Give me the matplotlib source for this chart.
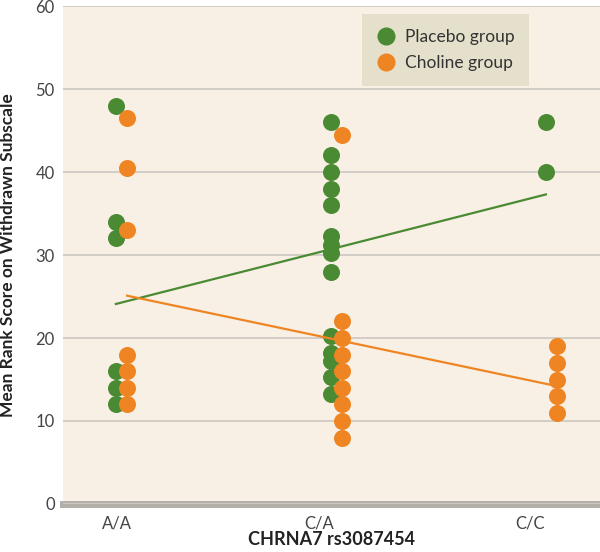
import matplotlib
matplotlib.use('Agg')
import matplotlib.pyplot as plt
from matplotlib.lines import Line2D

plt.rcParams['font.family'] = ['Lato', 'DejaVu Sans']

GENOTYPES = ['A/A', 'C/A', 'C/C']

PLACEBO = [
    [48, 34, 32, 16, 14, 12],
    [46, 42, 40, 38, 36, 32.3, 31.2, 30.2, 28, 20.2, 18.2, 17.2, 15.3, 13.3],
    [46, 40],
]
CHOLINE = [
    [46.5, 40.5, 33, 18, 16, 14, 12],
    [44.5, 22, 20, 18, 16, 14, 12, 10, 8],
    [19, 17, 15, 13, 11],
]
# fitted trend, value at A/A and at C/C
PLACEBO_FIT = [24.1, 37.3]
CHOLINE_FIT = [25.1, 14.2]

GREEN = '#4a8a33'
ORANGE = '#ee8522'
BG = '#f8f0e5'

fig = plt.figure(figsize=(6, 5.52), dpi=100)
ax = fig.add_axes([0.105, 0.087, 0.895, 0.902])
ax.set_facecolor(BG)

off = 0.026
for i, vals in enumerate(PLACEBO):
    ax.scatter([i - off] * len(vals), vals, s=150, color=GREEN, zorder=5, linewidths=0)
for i, vals in enumerate(CHOLINE):
    ax.scatter([i + off] * len(vals), vals, s=150, color=ORANGE, zorder=6, linewidths=0)

ax.plot([0 - off, 2 - off], PLACEBO_FIT, color=GREEN, lw=1.6, zorder=7)
ax.plot([0 + off, 2 + off], CHOLINE_FIT, color=ORANGE, lw=1.6, zorder=7)

ax.set_ylim(0, 60)
ax.set_xlim(-0.272, 2.226)
ax.set_yticks(range(0, 61, 10))
ax.yaxis.grid(True, color='#cfcac3', lw=1.3, zorder=0)
ax.axhline(0, color='#b3aea8', lw=5, zorder=1, clip_on=False)
for s in ax.spines.values():
    s.set_visible(False)
ax.tick_params(length=0, labelsize=12, labelcolor='#444444')
ax.tick_params(axis='y', pad=6)
ax.tick_params(axis='x', pad=8)
ax.set_xticks([-0.02, 0.92, 1.9])
ax.set_xticklabels(GENOTYPES)

ax.set_ylabel('Mean Rank Score on Withdrawn Subscale', fontsize=12.5, color='#222222',
              fontweight='bold')
ax.yaxis.set_label_coords(-0.088, 0.5)
ax.set_xlabel('CHRNA7 rs3087454', fontsize=13, color='#222222', fontweight='bold',
              labelpad=0)

handles = [
    Line2D([], [], marker='o', ls='', color=GREEN, markersize=12, label='Placebo group'),
    Line2D([], [], marker='o', ls='', color=ORANGE, markersize=12, label='Choline group'),
]
leg = ax.legend(handles=handles, loc='upper left', bbox_to_anchor=(0.557, 0.984),
                frameon=True, fancybox=False, facecolor='#e4e0cb', edgecolor='none',
                framealpha=1, fontsize=12.5, handlelength=1.0, handletextpad=0.6,
                borderpad=0.85, borderaxespad=0, labelspacing=0.6)
for t in leg.get_texts():
    t.set_color('#333333')

plt.savefig('out.png', dpi=100)
